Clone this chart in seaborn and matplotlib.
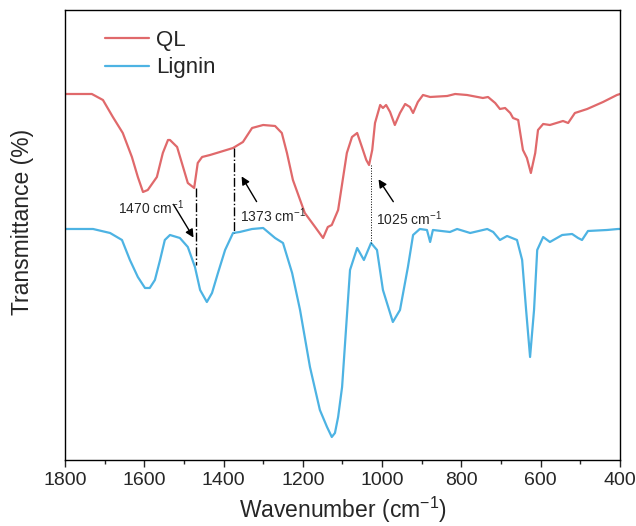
import matplotlib
matplotlib.use("Agg")
import matplotlib.pyplot as plt
import seaborn as sns
import pandas as pd
from matplotlib.ticker import MultipleLocator

# ---- data (wavenumber in cm-1, transmittance in arbitrary offset units) ----
ql_wn = [1800, 1732, 1704, 1679, 1654, 1631, 1616, 1603, 1591, 1568, 1553, 1540, 1535,
         1517, 1502, 1490, 1474, 1465, 1454, 1434, 1409, 1376, 1351, 1328, 1300, 1270,
         1253, 1240, 1225, 1195, 1169, 1149, 1137, 1127, 1111, 1089, 1076, 1063, 1051,
         1040, 1033, 1025, 1018, 1005, 998, 990, 980, 968, 955, 942, 930, 922, 910, 897,
         879, 836, 816, 786, 746, 733, 715, 703, 690, 677, 670, 657, 645, 635, 625, 614,
         607, 594, 577, 544, 531, 514, 483, 443, 408, 400]
ql_t = [406, 406, 400, 383, 367, 343, 323, 308, 310, 323, 347, 360, 360,
        353, 333, 317, 312, 337, 343, 345, 348, 352, 358, 372, 375, 374,
        367, 347, 320, 287, 273, 262, 273, 275, 290, 347, 363, 367, 353,
        340, 335, 350, 377, 395, 392, 395, 388, 375, 387, 396, 393, 387, 398, 405,
        403, 404, 406, 405, 402, 403, 397, 391, 392, 387, 382, 380, 350, 342, 327, 347,
        370, 376, 375, 379, 377, 387, 391, 398, 405, 406]

lig_wn = [1800, 1729, 1686, 1656, 1636, 1616, 1598, 1586, 1573, 1560, 1548, 1535, 1510,
          1490, 1472, 1459, 1442, 1429, 1414, 1396, 1376, 1359, 1328, 1300, 1270, 1250,
          1227, 1207, 1182, 1157, 1139, 1127, 1119, 1111, 1101, 1081, 1063, 1046, 1028,
          1013, 998, 973, 955, 935, 922, 905, 887, 879, 872, 829, 811, 778, 735, 720, 703,
          685, 660, 647, 637, 627, 617, 609, 594, 577, 546, 521, 506, 496, 481, 433, 405, 400]
lig_t = [271, 271, 267, 260, 240, 223, 212, 212, 220, 240, 260, 265, 262,
         253, 233, 210, 198, 207, 227, 250, 267, 268, 271, 272, 262, 257,
         227, 190, 133, 90, 73, 63, 67, 83, 113, 230, 252, 240, 257,
         250, 210, 178, 190, 233, 265, 271, 270, 258, 270, 268, 271, 267, 271, 268, 260,
         264, 260, 240, 190, 143, 190, 250, 263, 258, 265, 266, 262, 260, 269, 270, 271, 271]

series_names = ["QL", "Lignin"]
colors = ["#E0696B", "#4DB3E3"]

df = pd.concat([
    pd.DataFrame({"wn": ql_wn, "T": ql_t, "sample": "QL"}),
    pd.DataFrame({"wn": lig_wn, "T": lig_t, "sample": "Lignin"}),
])

sns.set_style("ticks")
plt.rcParams["font.family"] = ["Liberation Sans", "DejaVu Sans"]
plt.rcParams["mathtext.default"] = "regular"

fig = plt.figure(figsize=(6.36, 5.26), dpi=100)
ax = fig.add_axes([0.102, 0.1255, 0.873, 0.8555])

sns.lineplot(data=df, x="wn", y="T", hue="sample", hue_order=series_names,
             palette=colors, sort=False, estimator=None, linewidth=1.6, ax=ax)

ax.set_xlim(1800, 400)
ax.set_ylim(40, 490)
ax.xaxis.set_major_locator(MultipleLocator(200))
ax.xaxis.set_minor_locator(MultipleLocator(100))
ax.tick_params(axis="x", which="major", direction="out", length=5, width=1, labelsize=14, pad=4)
ax.tick_params(axis="x", which="minor", direction="out", length=3, width=1)
ax.set_yticks([])
for s in ax.spines.values():
    s.set_visible(True)
    s.set_linewidth(1.0)
    s.set_color("black")

ax.set_xlabel("Wavenumber (cm$^{-1}$)", fontsize=16.5, labelpad=4)
ax.set_ylabel("Transmittance (%)", fontsize=16.5)
ax.yaxis.set_label_coords(-0.056, 0.529)

leg = ax.legend(loc="upper left", bbox_to_anchor=(0.056, 0.975), frameon=False,
                fontsize=16, handlelength=2.0, handletextpad=0.3, labelspacing=0.28,
                borderaxespad=0)
for line in leg.get_lines():
    line.set_linewidth(1.6)

# marker lines between spectra
peaks = [1470, 1373, 1025]
ax.plot([1470, 1470], [312, 235], color="black", lw=1.0, ls="-.")
ax.plot([1373, 1373], [352, 267], color="black", lw=1.0, ls="-.")
ax.plot([1028, 1028], [335, 257], color="black", lw=0.7, ls=":")

arrowprops = dict(arrowstyle="-|>", color="black", lw=1.0, mutation_scale=12)
ax.annotate("", xy=(1472, 260), xytext=(1530, 298), arrowprops=arrowprops)
ax.text(1665, 292, "1470 cm$^{-1}$", fontsize=10, va="center", ha="left")
ax.annotate("", xy=(1358, 326), xytext=(1313, 296), arrowprops=arrowprops)
ax.text(1358, 284, "1373 cm$^{-1}$", fontsize=10, va="center", ha="left")
ax.annotate("", xy=(1013, 323), xytext=(968, 296), arrowprops=arrowprops)
ax.text(1015, 281, "1025 cm$^{-1}$", fontsize=10, va="center", ha="left")

fig.savefig("out.png", dpi=100)
